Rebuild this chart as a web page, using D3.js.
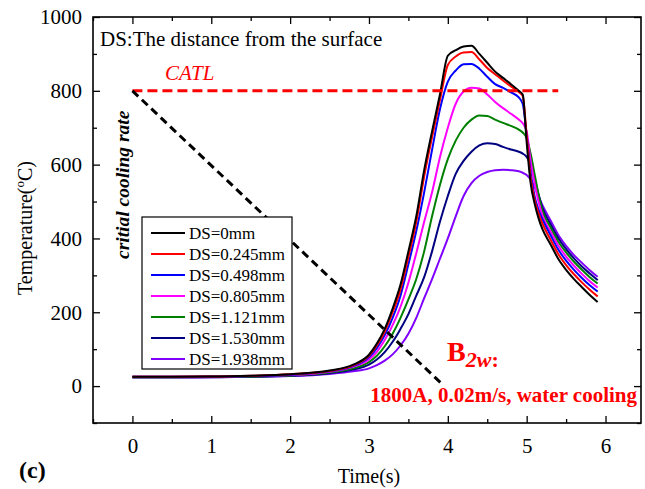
<!DOCTYPE html>
<html>
<head>
<meta charset="utf-8">
<script src="https://cdn.jsdelivr.net/npm/d3@7"></script>
<style>
  body { margin: 0; background: #fff; }
  text { font-family: "Liberation Serif", "Times New Roman", serif; }
</style>
</head>
<body>
<div id="chart"></div>
<script>
// time axis (s)
const times = [0, 0.5, 1.0, 1.5, 2.0, 2.5, 2.8, 3.0, 3.1, 3.2, 3.3, 3.4, 3.5, 3.6, 3.7, 3.8, 3.9, 4.0,
  4.1, 4.2, 4.3, 4.4, 4.5, 4.6, 4.7, 4.8, 4.9, 4.95, 5.0, 5.05, 5.1, 5.15, 5.2, 5.3, 5.4, 5.5, 5.6, 5.7, 5.8, 5.9]

// temperature (C) for each depth
const ds0 = [25, 25, 26, 28, 32, 42, 58, 85, 115, 155, 210, 275, 365, 460, 585, 690, 790, 895,
  910, 920, 922, 900, 876, 852, 835, 818, 800, 790, 660, 550, 495, 455, 425, 385, 345, 315, 290, 268, 247, 228]
const ds0245 = [25, 25, 26, 28, 32, 41, 56, 82, 110, 148, 200, 262, 350, 445, 568, 675, 775, 870,
  893, 904, 905, 885, 862, 845, 828, 812, 797, 786, 680, 565, 505, 468, 440, 398, 358, 328, 303, 281, 261, 243]
const ds0498 = [25, 25, 26, 27, 31, 40, 54, 78, 103, 138, 185, 245, 330, 420, 525, 640, 750, 825,
  855, 872, 873, 860, 838, 818, 808, 796, 782, 765, 680, 580, 515, 478, 452, 410, 370, 340, 315, 293, 273, 256]
const ds0805 = [25, 25, 25, 27, 30, 39, 52, 72, 93, 125, 165, 215, 280, 360, 445, 525, 620, 700,
  765, 798, 808, 806, 790, 770, 753, 738, 722, 712, 690, 610, 550, 500, 462, 420, 381, 351, 326, 304, 284, 267]
const ds1121 = [24, 24, 25, 26, 29, 37, 48, 65, 82, 108, 142, 185, 235, 290, 365, 460, 545, 615,
  665, 700, 722, 733, 732, 722, 713, 705, 695, 687, 672, 630, 575, 520, 475, 431, 392, 362, 337, 315, 295, 278]
const ds1530 = [24, 24, 24, 25, 28, 35, 45, 58, 72, 92, 120, 155, 195, 245, 295, 365, 445, 515,
  575, 610, 635, 652, 658, 656, 648, 641, 635, 630, 621, 600, 562, 520, 483, 440, 401, 371, 346, 324, 305, 287]
const ds1938 = [23, 23, 24, 25, 27, 33, 40, 48, 57, 69, 86, 110, 142, 185, 238, 290, 345, 400,
  460, 515, 550, 570, 580, 585, 586, 585, 582, 578, 572, 560, 540, 515, 490, 450, 410, 380, 355, 334, 314, 296]

const seriesNames = ['DS=0mm', 'DS=0.245mm', 'DS=0.498mm', 'DS=0.805mm', 'DS=1.121mm', 'DS=1.530mm', 'DS=1.938mm']
const seriesColors = ['#000000', '#ff0000', '#0000ff', '#ff00ff', '#008000', '#000080', '#8000ff']
const seriesValues = [ds0, ds0245, ds0498, ds0805, ds1121, ds1530, ds1938]

const xTicks = [0, 1, 2, 3, 4, 5, 6]
const yTicks = [0, 200, 400, 600, 800, 1000]

// reference lines
const catlLine = [[0, 800], [5.4, 800]]
const coolingLine = [[0, 800], [3.93, 5]]

var W = 645, H = 489
var plotL = 93, plotR = 641, plotT = 17, plotB = 423

var svg = d3.select('#chart').append('svg')
  .attr('width', W)
  .attr('height', H)

var x = d3.scaleLinear().domain([-0.5, 6.45]).range([plotL, plotR])
var y = d3.scaleLinear().domain([-100, 1000]).range([plotB, plotT])

// ticks, inward on all four sides
var xMinor = d3.range(-0.5, 6.5, 0.5).filter(d => !xTicks.includes(d))
var yMinor = d3.range(-100, 1001, 100).filter(d => !yTicks.includes(d))

var axes = svg.append('g')
axes.append('g').attr('transform', 'translate(0,' + plotB + ')')
  .call(d3.axisBottom(x).tickValues(xTicks).tickSizeInner(-7).tickSizeOuter(0).tickPadding(15).tickFormat(d3.format('d')))
axes.append('g').attr('transform', 'translate(0,' + plotB + ')')
  .call(d3.axisBottom(x).tickValues(xMinor).tickSizeInner(-4).tickSizeOuter(0).tickFormat(''))
axes.append('g').attr('transform', 'translate(0,' + plotT + ')')
  .call(d3.axisTop(x).tickValues(xTicks).tickSizeInner(-7).tickSizeOuter(0).tickFormat(''))
axes.append('g').attr('transform', 'translate(0,' + plotT + ')')
  .call(d3.axisTop(x).tickValues(xMinor).tickSizeInner(-4).tickSizeOuter(0).tickFormat(''))
axes.append('g').attr('transform', 'translate(' + plotL + ',0)')
  .call(d3.axisLeft(y).tickValues(yTicks).tickSizeInner(-7).tickSizeOuter(0).tickPadding(11).tickFormat(d3.format('d')))
axes.append('g').attr('transform', 'translate(' + plotL + ',0)')
  .call(d3.axisLeft(y).tickValues(yMinor).tickSizeInner(-4).tickSizeOuter(0).tickFormat(''))
axes.append('g').attr('transform', 'translate(' + plotR + ',0)')
  .call(d3.axisRight(y).tickValues(yTicks).tickSizeInner(-7).tickSizeOuter(0).tickFormat(''))
axes.append('g').attr('transform', 'translate(' + plotR + ',0)')
  .call(d3.axisRight(y).tickValues(yMinor).tickSizeInner(-4).tickSizeOuter(0).tickFormat(''))

axes.selectAll('.domain').remove()
axes.selectAll('line').attr('stroke', '#000').attr('stroke-width', 1.3)
axes.selectAll('text').attr('font-family', '"Liberation Serif", serif').attr('font-size', 21).attr('fill', '#000')

svg.append('rect')
  .attr('x', plotL).attr('y', plotT)
  .attr('width', plotR - plotL).attr('height', plotB - plotT)
  .attr('fill', 'none').attr('stroke', '#000').attr('stroke-width', 1.6)

// curves
var line = d3.line()
  .x((d, i) => x(times[i]))
  .y(d => y(d))
  .curve(d3.curveMonotoneX)

svg.append('g').selectAll('path')
  .data(seriesValues.slice().reverse())
  .enter().append('path')
  .attr('d', d => line(d))
  .attr('fill', 'none')
  .attr('stroke', (d, i) => seriesColors[seriesColors.length - 1 - i])
  .attr('stroke-width', 2)

var refLine = d3.line().x(d => x(d[0])).y(d => y(d[1]))

svg.append('path')
  .attr('d', refLine(catlLine))
  .attr('fill', 'none').attr('stroke', '#ff0000')
  .attr('stroke-width', 3).attr('stroke-dasharray', '10,5')

svg.append('path')
  .attr('d', refLine(coolingLine))
  .attr('fill', 'none').attr('stroke', '#000')
  .attr('stroke-width', 3).attr('stroke-dasharray', '8,5')

// legend
var legend = svg.append('g').attr('transform', 'translate(142,217)')
legend.append('rect')
  .attr('width', 150).attr('height', 152)
  .attr('fill', '#fff').attr('stroke', '#000').attr('stroke-width', 1.2)
var items = legend.selectAll('g.item')
  .data(seriesNames)
  .enter().append('g')
  .attr('class', 'item')
  .attr('transform', (d, i) => 'translate(0,' + (16 + i * 21) + ')')
items.append('line')
  .attr('x1', 9).attr('x2', 43)
  .attr('stroke', (d, i) => seriesColors[i]).attr('stroke-width', 2)
items.append('text')
  .attr('x', 47).attr('y', 6)
  .attr('font-size', 17)
  .text(d => d)

// annotations
svg.append('text')
  .attr('x', 100).attr('y', 46)
  .attr('font-size', 21)
  .text('DS:The distance from the surface')

svg.append('text')
  .attr('x', 165).attr('y', 80)
  .attr('font-size', 21).attr('font-style', 'italic').attr('fill', '#ff0000')
  .text('CATL')

svg.append('text')
  .attr('transform', 'translate(129,259) rotate(-90)')
  .attr('font-size', 19.5).attr('font-style', 'italic').attr('font-weight', 'bold')
  .text('critial cooling rate')

var b2w = svg.append('text')
  .attr('x', 447).attr('y', 361)
  .attr('fill', '#ff0000').attr('font-weight', 'bold')
b2w.append('tspan').attr('font-size', 28).text('B')
b2w.append('tspan').attr('font-size', 22).attr('font-style', 'italic').attr('dy', 6).text('2w')
b2w.append('tspan').attr('font-size', 22).text(':')

svg.append('text')
  .attr('x', 637).attr('y', 402)
  .attr('text-anchor', 'end')
  .attr('font-size', 21).attr('font-weight', 'bold').attr('fill', '#ff0000')
  .text('1800A, 0.02m/s, water cooling')

svg.append('text')
  .attr('x', 19).attr('y', 478)
  .attr('font-size', 24).attr('font-weight', 'bold')
  .text('(c)')

svg.append('text')
  .attr('x', x(3)).attr('y', 483)
  .attr('text-anchor', 'middle')
  .attr('font-size', 20)
  .text('Time(s)')

var ylab = svg.append('text')
  .attr('transform', 'translate(32,228) rotate(-90)')
  .attr('text-anchor', 'middle')
  .attr('font-size', 20)
ylab.append('tspan').text('Temperature(')
ylab.append('tspan').attr('font-size', 13).attr('dy', -8).text('o')
ylab.append('tspan').attr('dy', 8).text('C)')
</script>
</body>
</html>
